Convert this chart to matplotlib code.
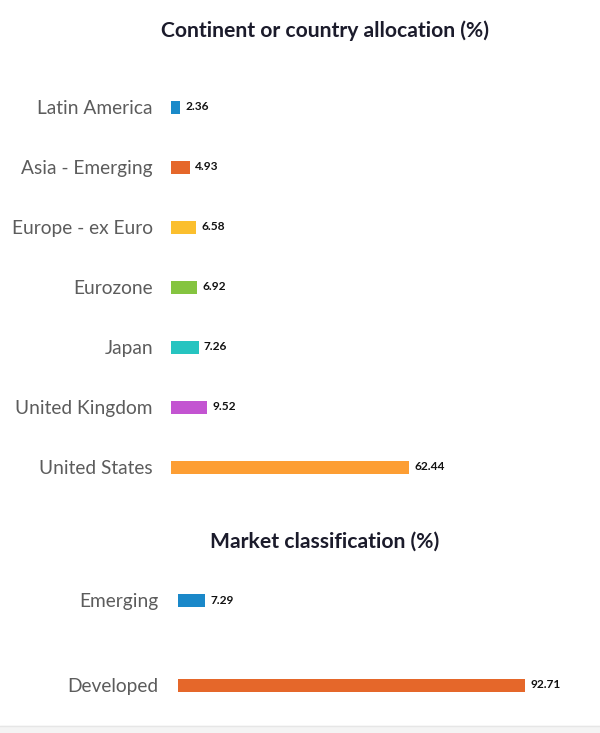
import matplotlib
matplotlib.use("Agg")
import matplotlib.pyplot as plt

plt.rcParams['font.family'] = ['Lato', 'DejaVu Sans']

# Continent or country allocation (%)
regions = ["Latin America", "Asia - Emerging", "Europe - ex Euro", "Eurozone",
           "Japan", "United Kingdom", "United States"]
region_values = [2.36, 4.93, 6.58, 6.92, 7.26, 9.52, 62.44]
region_colors = ["#1a8ac9", "#e5672a", "#fbbf2e", "#85c440",
                 "#26c4c0", "#c354d1", "#fd9e33"]

# Market classification (%)
markets = ["Emerging", "Developed"]
market_values = [7.29, 92.71]
market_colors = ["#1a88c9", "#e5672a"]

W, H = 600, 733
fig = plt.figure(figsize=(W / 100, H / 100), dpi=100)
fig.patch.set_facecolor("white")


def px_axes(x0, y0, x1, y1):
    # pixel box (top-left origin) -> figure axes
    return fig.add_axes([x0 / W, 1 - y1 / H, (x1 - x0) / W, (y1 - y0) / H])


def draw_bars(ax, labels, values, colors, height, pad):
    pos = list(range(len(labels)))
    ax.barh(pos, values, height=height, color=colors)
    for p, v in zip(pos, values):
        ax.text(v + 1.4, p, f"{v:.2f}", va="center", ha="left",
                fontsize=8.6, fontweight="bold", color="#111111")
    ax.set_yticks(pos)
    ax.set_yticklabels(labels, fontsize=13.8, color="#5c5c5c")
    ax.tick_params(axis="y", length=0, pad=pad)
    ax.set_xticks([])
    ax.set_xlim(0, 100)
    for s in ax.spines.values():
        s.set_visible(False)
    ax.patch.set_alpha(0)


# top chart: rows every 60 px starting at y=107, bars start at x=171
ax1 = px_axes(171, 77, 552, 497)
draw_bars(ax1, regions, region_values, region_colors, 13 / 60, 13)
ax1.set_ylim(len(regions) - 0.5, -0.5)

# bottom chart: rows at y=600 and y=685, bars start at x=178
ax2 = px_axes(178, 560, 552.5, 720)
draw_bars(ax2, markets, market_values, market_colors, 13 / 85, 14)
ax2.set_ylim(120 / 85, -40 / 85)

fig.text(325 / W, 1 - 31 / H, "Continent or country allocation (%)",
         ha="center", va="center", fontsize=15.2, fontweight="bold",
         color="#1b1b2b")
fig.text(325 / W, 1 - 542 / H, "Market classification (%)",
         ha="center", va="center", fontsize=15.2, fontweight="bold",
         color="#1b1b2b")

# light footer strip
fig.add_artist(plt.Rectangle((0, 0), 1, 7 / H, transform=fig.transFigure,
                             color="#f4f4f4", zorder=0))
fig.add_artist(plt.Line2D([0, 1], [7 / H, 7 / H], transform=fig.transFigure,
                          color="#e6e6e6", lw=1))

fig.savefig("out.png", dpi=100)
